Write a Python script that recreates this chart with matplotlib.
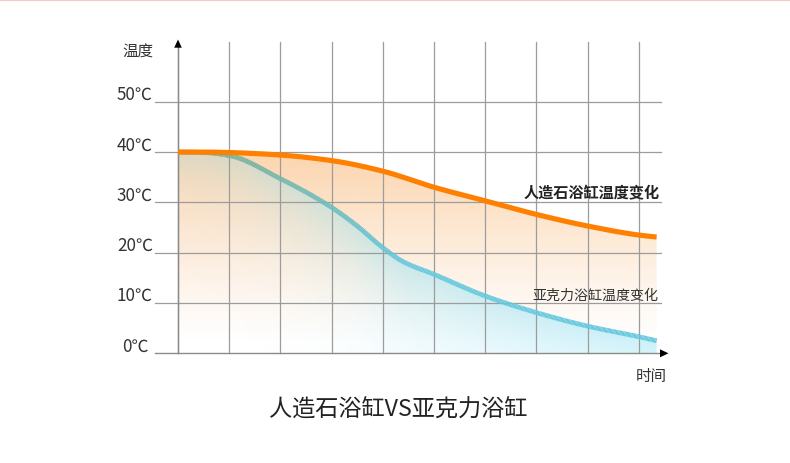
import numpy as np
import matplotlib
matplotlib.use("Agg")
import matplotlib.pyplot as plt
from matplotlib.collections import LineCollection
from matplotlib.patches import Polygon

plt.rcParams['font.family'] = ['Noto Sans CJK SC', 'DejaVu Sans']

# ---- data ----
y_ticks = [0, 10, 20, 30, 40, 50]
y_tick_labels = ['0℃', '10℃', '20℃', '30℃', '40℃', '50℃']
grid_x = [0, 1, 2, 3, 4, 5, 6, 7, 8, 9]

stone_t = [0, 0.5, 1, 2, 3, 4, 5, 6, 7, 8, 9, 9.35]
stone_v = [40, 40, 39.9, 39.4, 38.3, 36.2, 33.0, 30.3, 27.6, 25.3, 23.5, 23.1]

acryl_t = [0, 0.5, 1, 2, 3, 3.5, 4, 4.4, 5, 6, 7, 8, 9, 9.35]
acryl_v = [40, 39.9, 39.3, 34.7, 29.0, 25.3, 21.0, 18.2, 15.7, 11.4, 8.1, 5.4, 3.3, 2.5]

title = '人造石浴缸VS亚克力浴缸'
stone_label = '人造石浴缸温度变化'
acryl_label = '亚克力浴缸温度变化'
y_title = '温度'
x_title = '时间'


def smooth_path(t, v, n=400):
    """Monotone cubic (Fritsch-Carlson) rendering of a polyline, for drawing only."""
    t = np.asarray(t, float)
    v = np.asarray(v, float)
    h = np.diff(t)
    d = np.diff(v) / h
    m = np.zeros_like(v)
    m[0], m[-1] = d[0], d[-1]
    for i in range(1, len(v) - 1):
        if d[i - 1] * d[i] <= 0:
            m[i] = 0
        else:
            w1 = 2 * h[i] + h[i - 1]
            w2 = h[i] + 2 * h[i - 1]
            m[i] = (w1 + w2) / (w1 / d[i - 1] + w2 / d[i])
    tt = np.linspace(t[0], t[-1], n)
    k = np.clip(np.searchsorted(t, tt, side='right') - 1, 0, len(t) - 2)
    s = (tt - t[k]) / h[k]
    h00 = 2 * s**3 - 3 * s**2 + 1
    h10 = s**3 - 2 * s**2 + s
    h01 = -2 * s**3 + 3 * s**2
    h11 = s**3 - s**2
    vv = h00 * v[k] + h10 * h[k] * m[k] + h01 * v[k + 1] + h11 * h[k] * m[k + 1]
    return tt, vv


# ---- figure: one axes covering the whole canvas ----
W, H = 790, 464
fig = plt.figure(figsize=(W / 100, H / 100), dpi=100)
ax = fig.add_axes([0, 0, 1, 1])
PX = 51.19   # px per time unit
PY = 5.032   # px per degree
X0, Y0 = 178, 354.3
ax.set_xlim(-X0 / PX, (W - X0) / PX)
ax.set_ylim(-(H - Y0) / PY, Y0 / PY)
ax.axis('off')


def px2x(p):
    return (p - X0) / PX


def py2y(p):
    return (Y0 - p) / PY


# top pink line
ax.plot([px2x(0), px2x(W)], [py2y(0.8), py2y(0.8)], color='#f8c8c8', lw=1.6, zorder=1)

# smooth renderings of the two series
st_x, st_y = smooth_path(stone_t, stone_v)
ac_x, ac_y = smooth_path(acryl_t, acryl_v)

# ---- gradient fills ----
xs = np.linspace(0, stone_t[-1], 400)
ys = np.linspace(0, 40.5, 300)
XX, YY = np.meshgrid(xs, ys)
ac_c = np.interp(xs, ac_x, ac_y)

# orange layer
a_or = 0.58 * np.clip((YY - 2) / 38, 0, 1) ** 1.15
img_or = np.zeros(XX.shape + (4,))
img_or[..., 0] = 250 / 255
img_or[..., 1] = 182 / 255
img_or[..., 2] = 115 / 255
img_or[..., 3] = a_or
im1 = ax.imshow(img_or, extent=[0, stone_t[-1], 0, 40.5], origin='lower',
                aspect='auto', zorder=2, interpolation='bilinear')
poly_or = Polygon(np.column_stack([np.r_[st_x, st_x[-1], 0], np.r_[st_y, 0, 0]]),
                  closed=True, transform=ax.transData, fc='none', ec='none')
ax.add_patch(poly_or)
im1.set_clip_path(poly_or)

# blue layer
dist = np.clip(ac_c[None, :] - YY, 0, None)
xf = np.clip(XX / 4.5, 0, 1)
decay = 5.0 + 7.5 * xf
a_bl = (0.34 + 0.16 * xf) * np.exp(-dist / decay)
img_bl = np.zeros(XX.shape + (4,))
img_bl[..., 0] = 150 / 255
img_bl[..., 1] = 226 / 255
img_bl[..., 2] = 244 / 255
img_bl[..., 3] = a_bl
im2 = ax.imshow(img_bl, extent=[0, stone_t[-1], 0, 40.5], origin='lower',
                aspect='auto', zorder=3, interpolation='bilinear')
poly_bl = Polygon(np.column_stack([np.r_[ac_x, ac_x[-1], 0], np.r_[ac_y, 0, 0]]),
                  closed=True, transform=ax.transData, fc='none', ec='none')
ax.add_patch(poly_bl)
im2.set_clip_path(poly_bl)

# ---- grid ----
grid_col = '#9c9c9c'
for gx in grid_x:
    ax.plot([gx, gx], [0, py2y(43)], color=grid_col, lw=0.9, zorder=4)
for gy in y_ticks[1:]:
    ax.plot([px2x(155), px2x(661)], [gy, gy], color=grid_col, lw=0.9, zorder=4)
# axes
ax.plot([px2x(155), px2x(662)], [0, 0], color='#8a8a8a', lw=1.0, zorder=4)
ax.plot([0, 0], [0, py2y(47)], color='#8a8a8a', lw=1.0, zorder=4)
# arrows
ax.add_patch(Polygon([[px2x(174.2), py2y(48.7)], [px2x(181.8), py2y(48.7)], [0, py2y(40.5)]],
                     closed=True, fc='black', ec='none', zorder=6))
ax.add_patch(Polygon([[px2x(660), py2y(350.3)], [px2x(660), py2y(358.3)], [px2x(668.5), 0]],
                     closed=True, fc='black', ec='none', zorder=6))

# ---- lines ----
pts = np.column_stack([ac_x, ac_y]).reshape(-1, 1, 2)
segs = np.concatenate([pts[:-1], pts[1:]], axis=1)
c_left = np.array([122, 176, 152]) / 255
c_right = np.array([102, 200, 222]) / 255
f = np.clip((ac_x[:-1] - 1.0) / 3.5, 0, 1)[:, None]
cols = c_left * (1 - f) + c_right * f
lc = LineCollection(segs, colors=cols, linewidths=3.4, zorder=7, capstyle='butt')
ax.add_collection(lc)

ax.plot(st_x, st_y, color='#ff8000', lw=3.7, zorder=8,
        solid_capstyle='butt', solid_joinstyle='round')

# ---- text ----
tick_col = '#333333'
for v, lab in zip(y_ticks, y_tick_labels):
    ax.text(px2x(135), v + 7.7 / PY, lab, ha='center', va='center',
            fontsize=12.3, color=tick_col, zorder=9)
ax.text(px2x(137.5), py2y(51.7), y_title, ha='center', va='center',
        fontsize=11.2, color=tick_col, zorder=9)
ax.text(px2x(651.7), py2y(376.7), x_title, ha='center', va='center',
        fontsize=11.2, color=tick_col, zorder=9)
ax.text(px2x(659.5), py2y(193.3), stone_label, ha='right', va='center',
        fontsize=10.9, fontweight='bold', color='#222222', zorder=9)
ax.text(px2x(658.5), py2y(296), acryl_label, ha='right', va='center',
        fontsize=10.1, color='#333333', zorder=9)
ax.text(px2x(398), py2y(410), title, ha='center', va='center',
        fontsize=16.7, color='#222222', zorder=9)

fig.savefig('out.png', dpi=100)
